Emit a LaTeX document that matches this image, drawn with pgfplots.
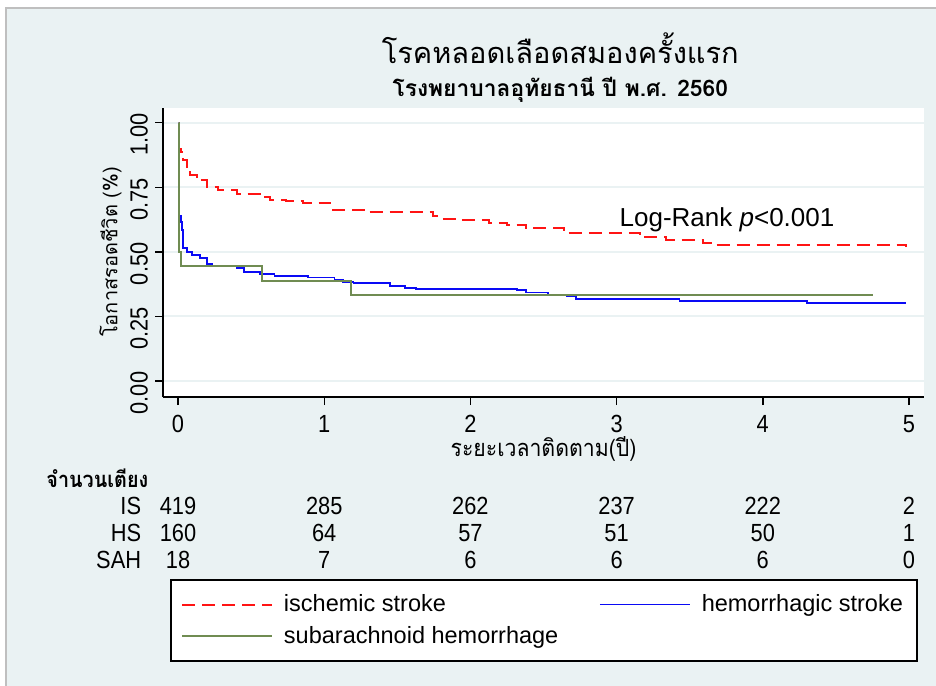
\documentclass[border=0pt]{standalone}
\usepackage{fontspec}
\usepackage{pgfplots}
\pgfplotsset{compat=1.18}
\setmainfont{Liberation Sans}
\newfontfamily\thai[Script=Thai]{Loma}
\newfontfamily\thainarrow[Script=Thai,FakeStretch=0.9]{Loma}
\newfontfamily\narrow[FakeStretch=0.88]{Liberation Sans}
\definecolor{bg}{RGB}{234,242,243}
\definecolor{isred}{RGB}{255,20,20}
\definecolor{hsblue}{RGB}{10,10,245}
\definecolor{sahgreen}{RGB}{112,140,82}
\newcommand{\numfont}{\narrow\fontsize{12.4bp}{13bp}\selectfont}
\begin{document}
\begin{tikzpicture}
\begin{scope}[x=0.5bp,y=-0.5bp]
\useasboundingbox (0,0) rectangle (936,686);
\fill[white] (0,0) rectangle (936,686);
\fill[bg] (6,8) rectangle (936,686);
\draw[black!25, line width=0.8bp] (6,686) -- (6,8) -- (936,8);
\end{scope}
\begin{axis}[
 scale only axis, width=380.5bp, height=144.5bp,
 at={(81.5bp,-198.5bp)}, anchor=south west,
 xmin=-0.103, xmax=5.103, ymin=-0.062, ymax=1.057,
 clip=false,
 axis x line*=bottom, axis y line*=left,
 axis line style={line width=0.7bp, black},
 axis background/.style={fill=white},
 xtick={0,1,2,3,4,5}, ytick={0,0.25,0.5,0.75,1},
 yticklabels={0.00,0.25,0.50,0.75,1.00},
 /pgf/number format/assume math mode=true,
 tick align=outside, major tick length=4bp,
 tick style={line width=0.7bp,black},
 ymajorgrids, grid style={bg, line width=1bp},
 x tick label style={font=\numfont, yshift=-1.5bp},
 y tick label style={font=\numfont, rotate=90, anchor=south, xshift=-6bp},
 xlabel={\thainarrow\fontsize{11.8bp}{12bp}\selectfont ระยะเวลาติดตาม(ปี)},
 x label style={at={(axis description cs:0.5,-0.18)}, anchor=center},
 ylabel={\thai\fontsize{10bp}{11bp}\selectfont โอกาสรอดชีวิต (\%)},
 y label style={at={(axis description cs:-0.069,0.502)}, anchor=center},
 title={\thai\fontsize{14.5bp}{15bp}\selectfont โรคหลอดเลือดสมองครั้งแรก},
 title style={at={(axis description cs:0.522,1.166)}, anchor=center},
 legend columns=2,
 legend style={at={(axis description cs:0.0092,-0.628)}, anchor=north west,
   draw=black, line width=1bp, fill=white,
   font=\fontsize{11.75bp}{13bp}\selectfont,
   inner xsep=5bp, inner ysep=5.5bp, row sep=2bp},
 legend cell align=left,
 legend image code/.code={\draw[#1] (0bp,0bp) -- (45bp,0bp);},
]
\addplot[const plot, isred, line width=1bp, dash pattern=on 6.5bp off 3.5bp] coordinates {
(0.005,1.0) (0.006,0.90) (0.018,0.888) (0.036,0.856) (0.06,0.82) (0.082,0.797)
(0.128,0.778) (0.196,0.752) (0.276,0.739) (0.40,0.724) (0.56,0.711) (0.63,0.70)
(0.74,0.697) (0.855,0.69) (1.04,0.664) (1.29,0.655) (1.745,0.638) (1.79,0.629)
(1.93,0.625) (2.13,0.613) (2.25,0.604) (2.38,0.591) (2.64,0.574) (3.16,0.556)
(3.34,0.546) (3.59,0.536) (3.66,0.527) (4.98,0.517)
};
\addlegendentry{\makebox[159bp][l]{\hspace*{3.5bp}ischemic stroke}}
\addplot[const plot, hsblue, line width=0.9bp] coordinates {
(0.005,1.0) (0.006,0.64) (0.018,0.617) (0.025,0.585) (0.036,0.514) (0.06,0.50)
(0.094,0.488) (0.15,0.475) (0.196,0.453) (0.23,0.446) (0.40,0.436) (0.45,0.423)
(0.56,0.414) (0.66,0.408) (0.89,0.401) (1.07,0.391) (1.13,0.384) (1.20,0.378)
(1.45,0.369) (1.55,0.361) (1.63,0.357) (2.32,0.352) (2.38,0.343) (2.53,0.335)
(2.66,0.329) (2.72,0.317) (3.43,0.310) (4.30,0.303) (4.98,0.303)
};
\addlegendentry{\hspace*{3.5bp}hemorrhagic stroke}
\addplot[const plot, sahgreen, line width=1bp] coordinates {
(0.005,1.0) (0.008,0.5) (0.02,0.444) (0.573,0.389) (1.185,0.333) (4.757,0.333)
};
\addlegendentry{\hspace*{3.5bp}subarachnoid hemorrhage}
\node[font=\thai\bfseries\fontsize{11.4bp}{12bp}\selectfont, anchor=center] at (axis description cs:0.522,1.064) {โรงพยาบาลอุทัยธานี ปี พ.ศ. 2560};
\node[font=\fontsize{13bp}{14bp}\selectfont, anchor=center] at (axis cs:3.755,0.623) {Log-Rank \textit{p}<0.001};
\node[font=\thainarrow\bfseries\fontsize{11bp}{12bp}\selectfont, anchor=west, inner xsep=0pt] at (axis cs:-0.903,-0.376) {จำนวนเตียง};
\node[font=\numfont, anchor=east, inner xsep=0pt] at (axis cs:-0.25,-0.484) {IS};
\node[font=\numfont, anchor=east, inner xsep=0pt] at (axis cs:-0.25,-0.588) {HS};
\node[font=\numfont, anchor=east, inner xsep=0pt] at (axis cs:-0.25,-0.693) {SAH};
\node[font=\numfont] at (axis cs:0,-0.484) {419};
\node[font=\numfont] at (axis cs:1,-0.484) {285};
\node[font=\numfont] at (axis cs:2,-0.484) {262};
\node[font=\numfont] at (axis cs:3,-0.484) {237};
\node[font=\numfont] at (axis cs:4,-0.484) {222};
\node[font=\numfont] at (axis cs:5,-0.484) {2};
\node[font=\numfont] at (axis cs:0,-0.588) {160};
\node[font=\numfont] at (axis cs:1,-0.588) {64};
\node[font=\numfont] at (axis cs:2,-0.588) {57};
\node[font=\numfont] at (axis cs:3,-0.588) {51};
\node[font=\numfont] at (axis cs:4,-0.588) {50};
\node[font=\numfont] at (axis cs:5,-0.588) {1};
\node[font=\numfont] at (axis cs:0,-0.693) {18};
\node[font=\numfont] at (axis cs:1,-0.693) {7};
\node[font=\numfont] at (axis cs:2,-0.693) {6};
\node[font=\numfont] at (axis cs:3,-0.693) {6};
\node[font=\numfont] at (axis cs:4,-0.693) {6};
\node[font=\numfont] at (axis cs:5,-0.693) {0};
\end{axis}
\end{tikzpicture}
\end{document}
